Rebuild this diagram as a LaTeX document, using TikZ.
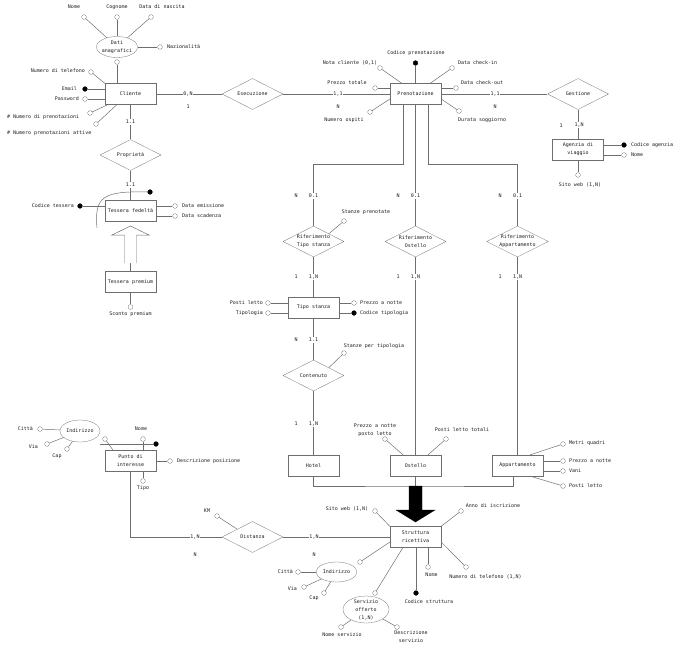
\documentclass[tikz,border=0pt]{standalone}
\usepackage{fontspec}
\setmonofont{DejaVu Sans Mono}
\usepackage{xcolor}
\usepackage{tikz}
\usetikzlibrary{arrows.meta,positioning,calc,shapes.geometric}
\definecolor{linec}{HTML}{6E6E6E}
\definecolor{textc}{HTML}{1E1E1E}

\begin{document}
\begin{tikzpicture}[x=0.05cm,y=-0.05cm,
  every node/.style={font=\ttfamily\fontsize{7.1}{11.4}\selectfont,text=textc},
  ent/.style={draw=linec,fill=white,minimum width=2.55cm,minimum height=1.05cm,
              inner sep=1pt,align=center},
  rel/.style={draw=linec,fill=white,diamond,aspect=2,minimum width=3.05cm,
              minimum height=1.55cm,inner sep=0pt,align=center},
  comp/.style={draw=linec,fill=white,ellipse,inner sep=-3pt,align=center},
  attr/.style={draw=linec,fill=white,circle,inner sep=0pt,minimum size=0.24cm},
  idattr/.style={attr,draw=black,fill=black},
  lbl/.style={inner sep=0pt,align=center},
  card/.style={fill=white,inner sep=1pt},
  link/.style={draw=linec,line width=0.7pt},
]
\useasboundingbox (0,0) rectangle (680,647);

% ---------- entities and relationships ----------
\node[ent] (cli)   at (130.5,94)    {Cliente};
\node[ent] (pren)  at (415.5,94)    {Prenotazione};
\node[ent] (agen)  at (578,149.5)   {Agenzia di\\viaggio};
\node[ent] (tfed)  at (130.5,211)   {Tessera fedeltà};
\node[ent] (tprem) at (130.5,282)   {Tessera premium};
\node[ent] (tipo)  at (313.5,307.5) {Tipo stanza};
\node[ent] (hotel) at (313.5,465.5) {Hotel};
\node[ent] (ost)   at (415.5,465.5) {Ostello};
\node[ent] (app)   at (517.5,465.5) {Appartamento};
\node[ent] (strut) at (415.5,537)   {Struttura\\ricettiva};
\node[ent] (punto) at (130.5,460.5) {Punto di\\interesse};

\node[rel] (esec) at (252.5,94)  {Esecuzione};
\node[rel] (gest) at (578,94)    {Gestione};
\node[rel] (prop) at (130.5,155) {Proprietà};
\foreach \n/\x/\lab in {rtipo/313.5/Tipo stanza,rost/415.5/Ostello,rapp/517.5/Appartamento}
  \node[rel] (\n) at (\x,241.5) {Riferimento\\\lab};
\node[rel] (cont) at (313.5,375.5) {Contenuto};
\node[rel] (dist) at (252.5,537)   {Distanza};

% ---------- links ----------
\draw[link] (cli) -- (esec) -- (pren) -- (gest) -- (agen);
\draw[link] (cli) -- (prop) -- (tfed);
\draw[link] ($(pren.south)+(-12.5,0)$) -- ++(0,60) -| (rtipo.north);
\draw[link] (pren.south) -- (rost.north);
\draw[link] ($(pren.south)+(12.5,0)$) -- ++(0,60) -| (rapp.north);
\draw[link] (rtipo) -- (tipo) -- (cont) -- (hotel);
\draw[link] (rost) -- (ost);
\draw[link] (rapp) -- (app);
\draw[link] (punto.south) |- (dist.west);
\draw[link] (dist) -- (strut);

% generalizations
\coordinate (gjoin) at (415.5,486);
\draw[link] (hotel.south) |- (gjoin) -| ($(app.south)+(-4.5,0)$);
\draw[link] (ost.south) -- (gjoin);
\draw[fill=black] (409,486) -- (422,486) -- (422,510) -- (435,510) -- (415.5,522)
  -- (396,510) -- (409,510) -- cycle;
\coordinate (pfoot) at (130.5,263);
\draw[link] (tprem.north) -- (pfoot);
\draw[link,fill=white] (124.5,263) -- (124.5,235) -- (112,235) -- (130.5,226)
  -- (149,235) -- (136.5,235) -- (136.5,263);

% ---------- Cliente ----------
\node[comp,minimum width=2.05cm,minimum height=1.05cm] (dati) at (117,47) {Dati\\anagrafici};
\node[attr] (anome) at (84,17) {};   \node[lbl] (lnome) at (74,7) {Nome};
\node[attr] (acogn) at (117,17) {};  \node[lbl] (lcogn) at (117,7) {Cognome};
\node[attr] (anasc) at (151,17) {};  \node[lbl] (lnasc) at (162,7) {Data di nascita};
\node[attr] (anaz) at (160,47) {};   \node[lbl,anchor=west] (lnaz) at (167,47) {Nazionalità};
\node[attr] (adati) at (117,62) {};
\foreach \a in {anome,acogn,anasc,anaz} \draw[link] (\a) -- (dati);
\draw[link] (adati) -- (adati |- cli.north);

\node[attr] (atel) at (91,72) {};     \node[lbl,anchor=east] (ltel) at (85,71) {Numero di telefono};
\node[idattr] (kmail) at (85,89) {};  \node[lbl,anchor=east] (lmail) at (77,89) {Email};
\node[attr] (apwd) at (85,99) {};     \node[lbl,anchor=east] (lpwd) at (79,99) {Password};
\node[attr] (anpr) at (90,113) {};    \node[lbl,anchor=west] (lnpr) at (7,117) {\# Numero di prenotazioni};
\node[attr] (anat) at (96,124) {};    \node[lbl,anchor=west] (lnat) at (7,133) {\# Numero prenotazioni attive};
\draw[link] (atel) -- (cli.north west);
\draw[link] (kmail) -- (kmail -| cli.west);
\draw[link] (apwd) -- (apwd -| cli.west);
\draw[link] (anpr) -- ($(cli.south west)+(3,0)$);
\draw[link] (anat) -- ($(cli.south west)+(12,0)$);

% ---------- Prenotazione ----------
\node[idattr] (kcodp) at (415.5,63) {}; \node[lbl] (lcodp) at (416,53) {Codice prenotazione};
\node[attr] (anota) at (380,68) {};     \node[lbl] (lnota) at (350,63) {Nota cliente (0,1)};
\node[attr] (achin) at (452,68) {};     \node[lbl,anchor=west] (lchin) at (458,63) {Data check-in};
\node[attr] (aprez) at (375,88) {};     \node[lbl] (lprez) at (347,83) {Prezzo totale};
\node[attr] (achout) at (456,88) {};    \node[lbl,anchor=west] (lchout) at (461,83) {Data check-out};
\node[attr] (aosp) at (370,112) {};     \node[lbl] (losp) at (344,120) {Numero ospiti};
\node[attr] (adur) at (459,111) {};     \node[lbl,anchor=west] (ldur) at (458,120) {Durata soggiorno};
\draw[link] (kcodp) -- (pren.north);
\draw[link] (anota) -- ($(pren.north west)+(12,0)$);
\draw[link] (achin) -- ($(pren.north east)+(-11,0)$);
\draw[link] (aprez) -- (aprez -| pren.west);
\draw[link] (achout) -- (achout -| pren.east);
\draw[link] (aosp) -- ($(pren.west)+(0,5)$);
\draw[link] (adur) -- ($(pren.east)+(0,5)$);

% ---------- Agenzia di viaggio ----------
\node[idattr] (kcoda) at (624,145) {}; \node[lbl,anchor=west] (lcoda) at (631,145) {Codice agenzia};
\node[attr] (anomea) at (624,155) {};  \node[lbl,anchor=west] (lnomea) at (631,155) {Nome};
\node[attr] (asito) at (578,175) {};   \node[lbl] (lsito) at (580,185) {Sito web (1,N)};
\draw[link] (kcoda) -- (kcoda -| agen.east);
\draw[link] (anomea) -- (anomea -| agen.east);
\draw[link] (asito) -- (agen);

% ---------- Tessera fedelta / premium ----------
\node[idattr] (kcodt) at (80,206) {}; \node[lbl,anchor=east] (lcodt) at (74,206) {Codice tessera};
\node[attr] (aemis) at (175,206) {};  \node[lbl,anchor=west] (lemis) at (182,206) {Data emissione};
\node[attr] (ascad) at (175,216) {};  \node[lbl,anchor=west] (lscad) at (182,216) {Data scadenza};
\node[idattr] (kidt) at (150,192) {};
\coordinate (idt) at (97,228);
\draw[link] (kcodt) -- (kcodt -| tfed.west);
\draw[link] (aemis) -- (aemis -| tfed.east);
\draw[link] (ascad) -- (ascad -| tfed.east);
\draw[link] (idt) .. controls (94,196) and (104,191) .. (kidt);
\node[attr] (asconto) at (130.5,307) {}; \node[lbl] (lsconto) at (130.5,314) {Sconto premium};
\draw[link] (asconto) -- (tprem);

% ---------- Tipo stanza ----------
\node[attr] (astp) at (344,221) {};  \node[lbl] (lstp) at (366,212) {Stanze prenotate};
\draw[link] (astp) -- (rtipo.north east);
\node[attr] (apost) at (268,303) {};    \node[lbl,anchor=east] (lpost) at (263,303) {Posti letto};
\node[attr] (atipl) at (268,313) {};    \node[lbl,anchor=east] (ltipl) at (263,313) {Tipologia};
\node[attr] (aprzn) at (354,303) {};    \node[lbl,anchor=west] (lprzn) at (360,303) {Prezzo a notte};
\node[idattr] (kcodtp) at (354,313) {}; \node[lbl,anchor=west] (lcodtp) at (360,313) {Codice tipologia};
\draw[link] (apost) -- (apost -| tipo.west);
\draw[link] (atipl) -- (atipl -| tipo.west);
\draw[link] (aprzn) -- (aprzn -| tipo.east);
\draw[link] (kcodtp) -- (kcodtp -| tipo.east);
\node[attr] (aspt) at (344,353) {};  \node[lbl] (lspt) at (374,346) {Stanze per tipologia};
\draw[link] (aspt) -- (cont.north east);

% ---------- Ostello / Appartamento ----------
\node[attr] (appl) at (385,439) {};  \node[lbl] (lppl) at (375,430) {Prezzo a notte\\posto letto};
\node[attr] (aplt) at (446,439) {};  \node[lbl] (lplt) at (462,430) {Posti letto totali};
\draw[link] (appl) -- ($(ost.north)+(-12.5,0)$);
\draw[link] (aplt) -- ($(ost.north)+(12.5,0)$);
\node[attr] (amq) at (563,444) {};    \node[lbl,anchor=west] (lmq) at (569,443) {Metri quadri};
\node[attr] (apna) at (563,461) {};   \node[lbl,anchor=west] (lpna) at (569,461) {Prezzo a notte};
\node[attr] (avani) at (563,471) {};  \node[lbl,anchor=west] (lvani) at (569,471) {Vani};
\node[attr] (apla) at (563,486) {};   \node[lbl,anchor=west] (lpla) at (569,486) {Posti letto};
\draw[link] (amq) -- ($(app.north east)+(-13,0)$);
\draw[link] (apna) -- (apna -| app.east);
\draw[link] (avani) -- (avani -| app.east);
\draw[link] (apla) -- ($(app.south east)+(-13,0)$);

% ---------- Punto di interesse ----------
\node[comp,minimum width=2cm,minimum height=1.1cm] (ind1) at (80,431) {Indirizzo};
\node[attr] (acit1) at (40,429) {};  \node[lbl,anchor=east] (lcit1) at (33,429) {Città};
\node[attr] (avia1) at (47,444) {};  \node[lbl,anchor=east] (lvia1) at (38,447) {Via};
\node[attr] (acap1) at (67,449) {};  \node[lbl] (lcap1) at (57,456) {Cap};
\foreach \a in {acit1,avia1,acap1} \draw[link] (\a) -- (ind1);
\node[attr] (aind1) at (105,439) {};
\node[attr] (anomep) at (143,439) {};  \node[lbl] (lnomep) at (141,429) {Nome};
\node[idattr] (kpid) at (156,444) {};
\coordinate (pid) at (100,444);
\node[attr] (adesc) at (170,461) {};  \node[lbl,anchor=west] (ldesc) at (177,461) {Descrizione posizione};
\node[attr] (atipo) at (143,481) {};  \node[lbl] (ltipo) at (143,488) {Tipo};
\draw[link] (aind1) -- ($(punto.north west)+(8,0)$);
\draw[link] (anomep) -- (anomep |- punto.north);
\draw[link] (pid) -- (kpid);
\draw[link] (adesc) -- (adesc -| punto.east);
\draw[link] (atipo) -- (atipo |- punto.south);
\node[attr] (akm) at (217,516) {};  \node[lbl] (lkm) at (207,511) {KM};
\draw[link] (akm) -- (dist.north west);

% ---------- Struttura ricettiva ----------
\node[attr] (asito2) at (375,511) {};  \node[lbl] (lsito2) at (347,509) {Sito web (1,N)};
\node[attr] (aanno) at (461,511) {};   \node[lbl] (lanno) at (493,506) {Anno di iscrizione};
\node[comp,minimum width=2.05cm,minimum height=1.0cm] (ind2) at (336.5,572) {Indirizzo};
\node[attr] (aind2) at (360,562) {};
\node[attr] (acit2) at (298,572) {};  \node[lbl,anchor=east] (lcit2) at (293,572) {Città};
\node[attr] (avia2) at (304,587) {};  \node[lbl,anchor=east] (lvia2) at (297,589) {Via};
\node[attr] (acap2) at (324,593) {};  \node[lbl] (lcap2) at (314,598) {Cap};
\node[comp,minimum width=2.3cm,minimum height=1.35cm] (serv) at (366,609.5) {Servizio\\offerto\\(1,N)};
\node[attr] (aserv) at (375,593) {};
\node[attr] (anserv) at (341,627) {};  \node[lbl] (lnserv) at (342,635) {Nome servizio};
\node[attr] (adserv) at (397,627) {};  \node[lbl] (ldserv) at (411,637) {Descrizione\\servizio};
\node[idattr] (kcods) at (416,593) {}; \node[lbl] (lcods) at (429,602) {Codice struttura};
\node[attr] (anomes) at (428,567) {};  \node[lbl] (lnomes) at (431.5,575) {Nome};
\node[attr] (atels) at (466,567) {};   \node[lbl] (ltels) at (485.5,577) {Numero di telefono (1,N)};
\draw[link] (asito2) -- (strut.north west);
\draw[link] (aanno) -- (strut.north east);
\draw[link] (aind2) -- ($(strut.west)+(0,5)$);
\foreach \a in {acit2,avia2,acap2} \draw[link] (\a) -- (ind2);
\draw[link] (aserv) -- ($(strut.south west)+(13,0)$);
\draw[link] (anserv) -- (serv);
\draw[link] (adserv) -- (serv);
\draw[link] (kcods) -- (kcods |- strut.south);
\draw[link] (anomes) -- (anomes |- strut.south);
\draw[link] (atels) -- ($(strut.east)+(0,5)$);

% ---------- cardinalities ----------
\node[card] (c1) at (188,94) {0,N};    \node[card] (c2) at (188,107) {1};
\node[card] (c3) at (338,94) {1,1};    \node[card] (c4) at (338,107) {N};
\node[card] (c5) at (495,94) {1,1};    \node[card] (c6) at (495,107) {N};
\node[card] (c7) at (579,125) {1,N};   \node[card] (c8) at (561,126) {1};
\node[card] (c9) at (130.5,122) {1.1}; \node[card] (c10) at (130.5,185) {1.1};
\foreach \x [count=\i] in {313.5,415.5,517.5} {
  \node[card] (cr\i) at (\x,196) {0.1};  \node[card] (cn\i) at (\x-17.5,196) {N};
  \node[card] (cs\i) at (\x,277) {1,N};  \node[card] (co\i) at (\x-17.5,277) {1};
}
\node[card] (c11) at (313.5,340) {1.1}; \node[card] (c12) at (296,340) {N};
\node[card] (c13) at (313.5,424) {1,N}; \node[card] (c14) at (296,424) {1};
\node[card] (c15) at (195,537) {1,N};   \node[card] (c16) at (195,555) {N};
\node[card] (c17) at (314,537) {1,N};   \node[card] (c18) at (314,555) {N};
\end{tikzpicture}
\end{document}
